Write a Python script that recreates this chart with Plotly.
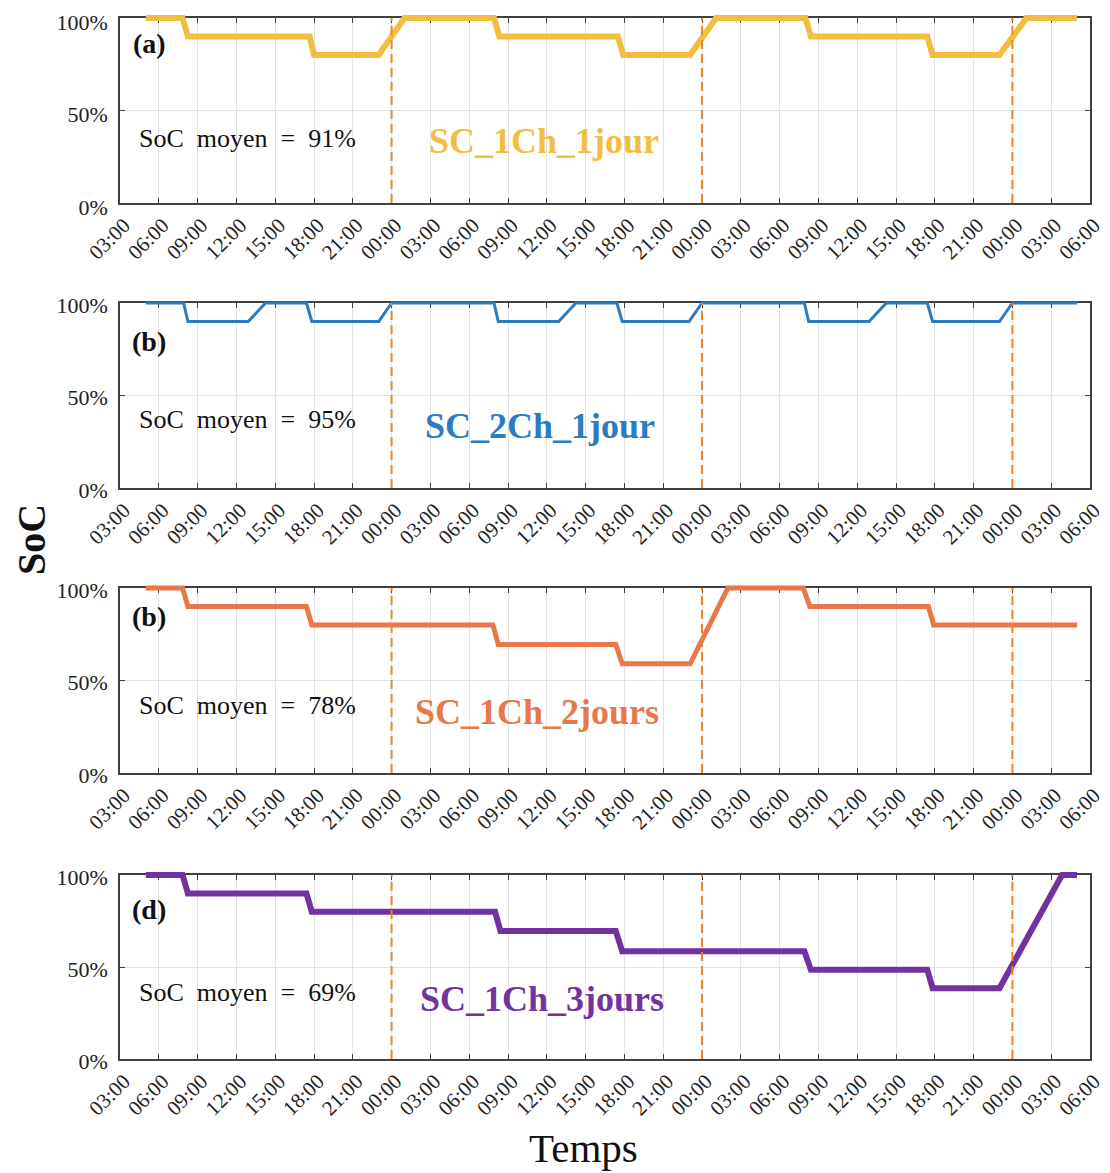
import plotly.graph_objects as go

# ---------------- data ----------------
time_a = ["2021-01-01 05:00", "2021-01-01 07:50", "2021-01-01 08:15", "2021-01-01 17:40", "2021-01-01 18:00",
          "2021-01-01 23:00", "2021-01-02 01:00", "2021-01-02 07:55", "2021-01-02 08:20", "2021-01-02 17:30",
          "2021-01-02 17:55", "2021-01-02 23:05", "2021-01-03 01:05", "2021-01-03 08:00", "2021-01-03 08:25",
          "2021-01-03 17:25", "2021-01-03 17:50", "2021-01-03 23:00", "2021-01-04 01:05", "2021-01-04 05:00"]
soc_a = [100, 100, 90, 90, 80, 80, 100, 100, 90, 90, 80, 80, 100, 100, 90, 90, 80, 80, 100, 100]

time_b = ["2021-01-01 05:00", "2021-01-01 07:55", "2021-01-01 08:15", "2021-01-01 12:55", "2021-01-01 14:15",
          "2021-01-01 17:25", "2021-01-01 17:50", "2021-01-01 23:00", "2021-01-02 00:00", "2021-01-02 07:55",
          "2021-01-02 08:15", "2021-01-02 12:55", "2021-01-02 14:15", "2021-01-02 17:25", "2021-01-02 17:50",
          "2021-01-02 23:00", "2021-01-03 00:00", "2021-01-03 07:55", "2021-01-03 08:15", "2021-01-03 12:55",
          "2021-01-03 14:15", "2021-01-03 17:25", "2021-01-03 17:50", "2021-01-03 23:00", "2021-01-04 00:00",
          "2021-01-04 05:00"]
soc_b = [100, 100, 90, 90, 100, 100, 90, 90, 100, 100, 90, 90, 100, 100, 90, 90, 100,
         100, 90, 90, 100, 100, 90, 90, 100, 100]

time_c = ["2021-01-01 05:00", "2021-01-01 07:50", "2021-01-01 08:15", "2021-01-01 17:25", "2021-01-01 17:50",
          "2021-01-02 07:50", "2021-01-02 08:15", "2021-01-02 17:20", "2021-01-02 17:50", "2021-01-02 23:05",
          "2021-01-03 02:00", "2021-01-03 07:50", "2021-01-03 08:20", "2021-01-03 17:30", "2021-01-03 17:55",
          "2021-01-04 05:00"]
soc_c = [100, 100, 90, 90, 80, 80, 69.5, 69.5, 59, 59, 100, 100, 90, 90, 80, 80]

time_d = ["2021-01-01 05:00", "2021-01-01 07:50", "2021-01-01 08:15", "2021-01-01 17:25", "2021-01-01 17:50",
          "2021-01-02 08:00", "2021-01-02 08:25", "2021-01-02 17:20", "2021-01-02 17:50", "2021-01-03 07:55",
          "2021-01-03 08:25", "2021-01-03 17:25", "2021-01-03 17:50", "2021-01-03 23:00", "2021-01-04 03:50",
          "2021-01-04 05:00"]
soc_d = [100, 100, 90, 90, 80, 80, 69.5, 69.5, 58.5, 58.5, 48.5, 48.5, 38.5, 38.5, 100, 100]

midnights = ["2021-01-02 00:00", "2021-01-03 00:00", "2021-01-04 00:00"]
x_range = ["2021-01-01 03:00", "2021-01-04 06:00"]
y_ticks = [0, 50, 100]
y_ticklabels = ["0%", "50%", "100%"]

panel_labels = ["(a)", "(b)", "(b)", "(d)"]
mean_texts = ["SoC moyen = 91%", "SoC moyen = 95%", "SoC moyen = 78%", "SoC moyen = 69%"]
case_names = ["SC_1Ch_1jour", "SC_2Ch_1jour", "SC_1Ch_2jours", "SC_1Ch_3jours"]

# ---------------- styles / layout ----------------
OFF = 8                    # page body margin of the browser
W, H = 1110 - OFF, 1173 - OFF
ML, MR, MT, MB = 112, 20, 2, 106
PW = W - ML - MR
PH = H - MT - MB
FONT = "Liberation Serif"
colors = ["#F1BE42", "#2B7BC0", "#E8784A", "#7233A0"]
widths = [6, 3, 5, 6]
dash_color = "#F08228"
axis_col = "#404040"

# target pixel positions in the final screenshot
panels_px = [(18, 203), (303, 488), (588, 773), (875, 1059)]
label_px = [(149, 44), (149, 341), (149, 616), (149, 909)]
mean_px = [(247, 139), (247, 420), (247, 706), (247, 992)]
name_px = [(544, 141), (540, 426), (537, 712), (542, 999)]
ylabel_shift = [4, 2, 2, 2]


def py2paper(py):
    return (H - MB - (py - OFF)) / PH


def px2paper(px):
    return ((px - OFF) - ML) / PW


series = [(time_a, soc_a), (time_b, soc_b), (time_c, soc_c), (time_d, soc_d)]

fig = go.Figure()
layout = dict(
    width=W, height=H,
    margin=dict(l=ML, r=MR, t=MT, b=MB, autoexpand=False),
    paper_bgcolor="white", plot_bgcolor="rgba(0,0,0,0)",
    showlegend=False,
    font=dict(family=FONT, color="#222222"),
)

EXT = 8  # px extension for the data layer so thick lines at 100% are not clipped
annotations = []
shapes = []
for i, ((top, bot), (tx, ty)) in enumerate(zip(panels_px, series)):
    k = i + 1
    dom = [py2paper(bot), py2paper(top)]
    xa = dict(
        domain=[0, 1], anchor=f"y{k}" if k > 1 else "y", type="date", range=x_range,
        tickmode="linear", tick0="2021-01-01 03:00", dtick=3 * 3600 * 1000, tickformat="%H:%M",
        tickangle=-45, ticks="inside", ticklen=5, tickwidth=1.2, tickcolor=axis_col,
        ticklabelshift=4, ticklabeloverflow="allow",
        showline=True, linecolor=axis_col, linewidth=1.5, mirror="ticks",
        showgrid=True, gridcolor="#E3E3E3", gridwidth=1, zeroline=False, automargin=False,
        tickfont=dict(family=FONT, size=21, color="#222222"),
    )
    ya = dict(
        domain=dom, anchor=f"x{k}" if k > 1 else "x", range=[0, 100],
        tickmode="array", tickvals=y_ticks, ticktext=y_ticklabels,
        ticks="inside", ticklen=5, tickwidth=1.2, ticklabelstandoff=6, ticklabeloverflow="allow",
        ticklabelshift=ylabel_shift[i],
        tickcolor=axis_col, showline=True, linecolor=axis_col, linewidth=1.5, mirror="ticks",
        showgrid=True, gridcolor="#E3E3E3", gridwidth=1, zeroline=False, automargin=False,
        tickfont=dict(family=FONT, size=22, color="#222222"),
    )
    layout["xaxis" if k == 1 else f"xaxis{k}"] = xa
    layout["yaxis" if k == 1 else f"yaxis{k}"] = ya
    fig.add_trace(go.Scatter(x=[], y=[], xaxis="x" if k == 1 else f"x{k}",
                             yaxis="y" if k == 1 else f"y{k}", hoverinfo="skip"))

    d = k + 4
    ext_pct = EXT / (bot - top) * 100
    layout[f"xaxis{d}"] = dict(domain=[0, 1], anchor=f"y{d}", type="date", range=x_range,
                               visible=False, showgrid=False, automargin=False)
    layout[f"yaxis{d}"] = dict(domain=[py2paper(bot + EXT), py2paper(top - EXT)], anchor=f"x{d}",
                               range=[-ext_pct, 100 + ext_pct], visible=False, showgrid=False,
                               automargin=False)
    fig.add_trace(go.Scatter(x=tx, y=ty, mode="lines", xaxis=f"x{d}", yaxis=f"y{d}",
                             line=dict(color=colors[i], width=widths[i]), hoverinfo="skip"))

    for m in midnights:
        shapes.append(dict(type="line", xref="x" if k == 1 else f"x{k}",
                           yref=("y" if k == 1 else f"y{k}") + " domain",
                           x0=m, x1=m, y0=0, y1=1,
                           line=dict(color=dash_color, width=2, dash="9px,5px")))

    lx, ly = label_px[i]
    annotations.append(dict(text=f"<b>{panel_labels[i]}</b>", x=px2paper(lx), y=py2paper(ly),
                            xref="paper", yref="paper", showarrow=False,
                            xanchor="center", yanchor="middle",
                            font=dict(family=FONT, size=28, color="#111111")))
    mx, my = mean_px[i]
    annotations.append(dict(text=mean_texts[i].replace(" ", " \u00a0"), x=px2paper(mx), y=py2paper(my),
                            xref="paper", yref="paper", showarrow=False,
                            xanchor="center", yanchor="middle",
                            font=dict(family=FONT, size=26, color="#111111")))
    nx, ny = name_px[i]
    annotations.append(dict(text=f"<b>{case_names[i]}</b>", x=px2paper(nx), y=py2paper(ny),
                            xref="paper", yref="paper", showarrow=False,
                            xanchor="center", yanchor="middle",
                            font=dict(family=FONT, size=36, color=colors[i])))

annotations.append(dict(text="<b>SoC</b>", x=px2paper(31), y=py2paper(540), xref="paper", yref="paper",
                        showarrow=False, textangle=-90, xanchor="center", yanchor="middle",
                        font=dict(family=FONT, size=40, color="#111111")))
annotations.append(dict(text="Temps", x=px2paper(583), y=py2paper(1148), xref="paper", yref="paper",
                        showarrow=False, xanchor="center", yanchor="middle",
                        font=dict(family=FONT, size=41, color="#111111")))

layout["annotations"] = annotations
layout["shapes"] = shapes
fig.update_layout(**layout)
fig.write_html("out.html")
